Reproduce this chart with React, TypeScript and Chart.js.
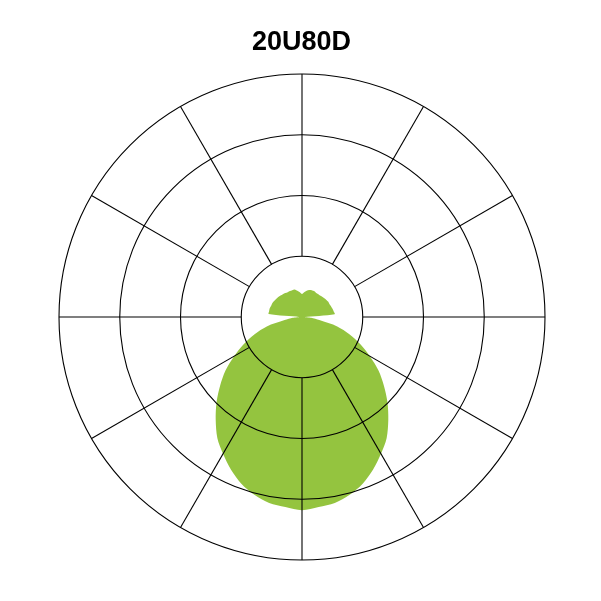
import React, { useEffect, useRef } from "react";
import { Chart, registerables } from "chart.js";

Chart.register(...registerables);

const chartTitle = "20U80D";

// angle in degrees, clockwise from the top
const angles = [
  0, 5, 10, 15, 20, 25, 30, 35, 40, 45, 50, 55, 60, 65, 70, 75, 80, 85,
  90, 95, 100, 105, 110, 115, 120, 125, 130, 135, 140, 145, 150, 155, 160, 165, 170, 175,
  180, 185, 190, 195, 200, 205, 210, 215, 220, 225, 230, 235, 240, 245, 250, 255, 260, 265,
  270, 275, 280, 285, 290, 295, 300, 305, 310, 315, 320, 325, 330, 335, 340, 345, 350, 355,
];

// relative intensity (ring units)
const intensity = [
  0.38, 0.41, 0.44, 0.46, 0.47, 0.47, 0.46, 0.46, 0.46, 0.47, 0.48, 0.49, 0.5, 0.5, 0.51, 0.52, 0.53, 0.54,
  0.05, 0.15, 0.29, 0.6, 0.83, 1.06, 1.29, 1.54, 1.76, 1.99, 2.21, 2.43, 2.6, 2.77, 2.92, 3.03, 3.11, 3.14,
  3.18, 3.14, 3.11, 3.03, 2.92, 2.77, 2.6, 2.43, 2.21, 1.99, 1.76, 1.54, 1.29, 1.06, 0.83, 0.6, 0.29, 0.15,
  0.05, 0.55, 0.55, 0.55, 0.54, 0.54, 0.53, 0.52, 0.51, 0.5, 0.49, 0.48, 0.47, 0.47, 0.47, 0.47, 0.44, 0.41,
];

const spokeAngles = [0, 30, 60, 90, 120, 150, 180, 210, 240, 270, 300, 330];
const innerRing = 1;
const outerRing = 4;

// spokes run from the inner ring to the outer ring only
const spokesPlugin = {
  id: "spokes",
  afterDatasetsDraw(chart: any) {
    const scale = chart.scales.r;
    const ctx = chart.ctx;
    ctx.save();
    ctx.strokeStyle = "#000000";
    ctx.lineWidth = 1.1;
    spokeAngles.forEach((a) => {
      const idx = angles.indexOf(a);
      const p0 = scale.getPointPositionForValue(idx, innerRing);
      const p1 = scale.getPointPositionForValue(idx, outerRing);
      ctx.beginPath();
      ctx.moveTo(p0.x, p0.y);
      ctx.lineTo(p1.x, p1.y);
      ctx.stroke();
    });
    ctx.restore();
  },
};

export default function App() {
  const chartRef = useRef<HTMLCanvasElement | null>(null);
  const chartInstanceRef = useRef<Chart | null>(null);

  useEffect(() => {
    if (chartRef.current) {
      if (chartInstanceRef.current) {
        chartInstanceRef.current.destroy();
      }
      chartInstanceRef.current = new Chart(chartRef.current, {
        type: "radar",
        data: {
          labels: angles.map((a) => a + "°"),
          datasets: [
            {
              label: chartTitle,
              data: intensity,
              backgroundColor: "#94c43f",
              borderWidth: 0,
              fill: true,
              tension: 0.3,
              pointRadius: 0,
              pointHoverRadius: 0,
            },
          ],
        },
        options: {
          animation: false,
          responsive: true,
          maintainAspectRatio: false,
          layout: {
            padding: { left: 59, right: 56, top: 74, bottom: 41 },
          },
          plugins: {
            legend: { display: false },
            title: { display: false },
            tooltip: { enabled: false },
          },
          scales: {
            r: {
              min: 0,
              max: outerRing,
              ticks: { stepSize: 1, display: false },
              grid: { circular: true, color: "#000000", lineWidth: 1.1, z: 1 },
              angleLines: { display: false },
              pointLabels: { display: false },
            },
          },
        },
        plugins: [spokesPlugin],
      });
    }

    return () => {
      if (chartInstanceRef.current) {
        chartInstanceRef.current.destroy();
        chartInstanceRef.current = null;
      }
    };
  }, []);

  return (
    <div
      style={{
        position: "fixed",
        left: 0,
        top: 0,
        width: 601,
        height: 601,
        background: "#ffffff",
      }}
    >
      <div
        style={{
          position: "absolute",
          left: 0,
          top: 28,
          width: 603,
          textAlign: "center",
          fontFamily: '"Liberation Sans", Arial, sans-serif',
          fontWeight: "bold",
          fontSize: 27,
          lineHeight: "27px",
          color: "#000000",
        }}
      >
        {chartTitle}
      </div>
      <canvas ref={chartRef}></canvas>
    </div>
  );
}
